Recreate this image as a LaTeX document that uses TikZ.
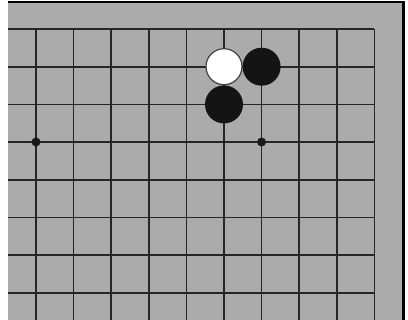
\documentclass[tikz,border=0pt]{standalone}
\begin{document}
\begin{tikzpicture}[x=1pt,y=-1pt,
  gridline/.style={line width=1.7pt,draw=black!85},
  blackstone/.style={circle,fill=black!92,draw=none,minimum size=38pt,inner sep=0pt},
  whitestone/.style={circle,fill=white,draw=black!75,line width=1.2pt,minimum size=36pt,inner sep=0pt},
  starpt/.style={circle,fill=black!90,minimum size=9pt,inner sep=0pt}]
\useasboundingbox (0,0) rectangle (408,320);
\fill[white] (0,0) rectangle (408,320);
\fill[black!33] (8,1.5) rectangle (404,320);
% grid
\foreach \j in {0,...,7} {
  \draw[gridline] (8,{29+\j*37.7}) -- (374.4,{29+\j*37.7});
}
\foreach \i in {0,...,9} {
  \draw[gridline] ({36+\i*37.6},29) -- ({36+\i*37.6},320);
}
% board edge
\draw[line width=2.5pt,black] (8,2) -- (403.5,2) -- (403.5,320);
% star points
\node[starpt] (s1) at (36,142) {};
\node[starpt] (s2) at (261.6,142) {};
% stones
\node[whitestone] (w1) at (224,66.7) {};
\node[blackstone] (b1) at (261.6,66.7) {};
\node[blackstone] (b2) at (224,104.4) {};
\end{tikzpicture}
\end{document}
